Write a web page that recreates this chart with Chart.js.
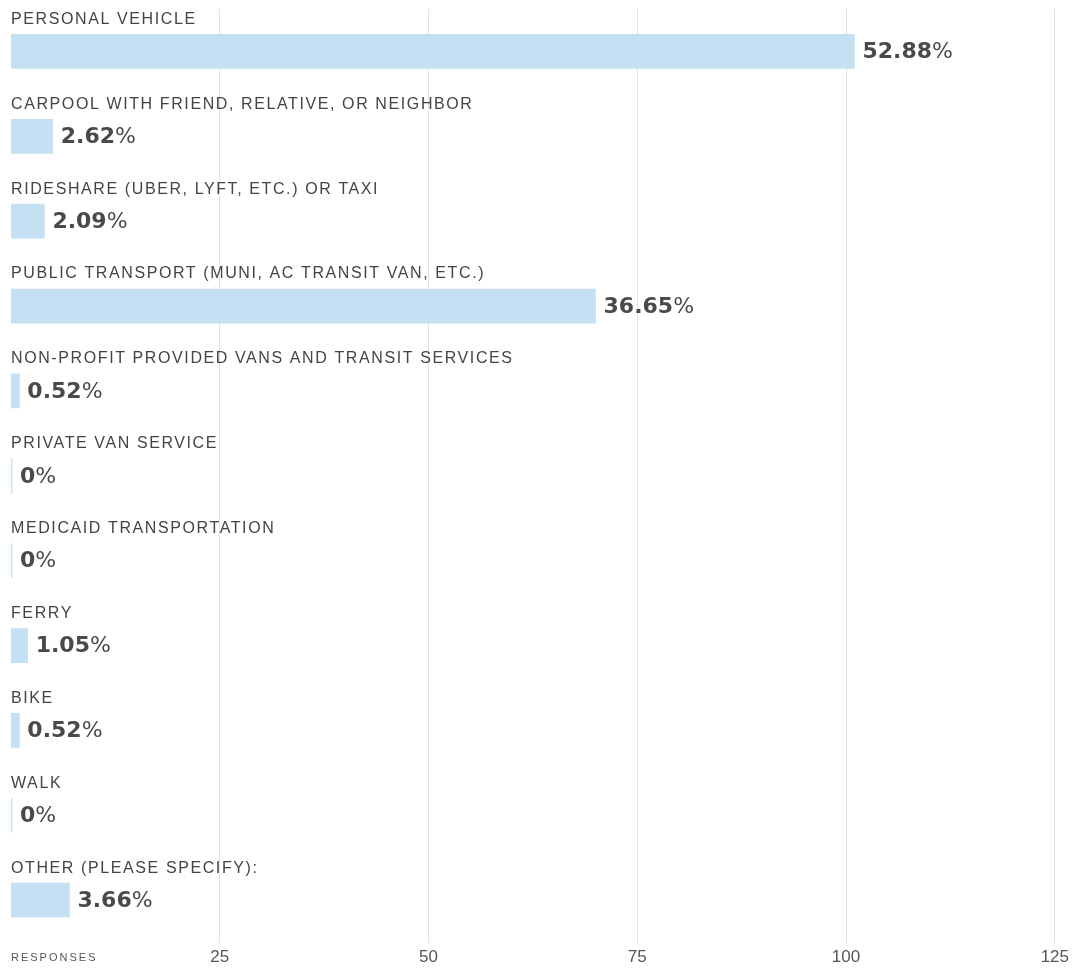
<!DOCTYPE html>
<html>
<head>
<meta charset="utf-8">
<script src="https://cdn.jsdelivr.net/npm/chart.js@4/dist/chart.umd.min.js"></script>
<style>
  body { margin: 0; background: #fff; }
  #wrap { width: 1074px; height: 968px; }
</style>
</head>
<body>
<div id="wrap"><canvas id="chart"></canvas></div>
<script>
// categories -> y axis
const categories = [
  'PERSONAL VEHICLE',
  'CARPOOL WITH FRIEND, RELATIVE, OR NEIGHBOR',
  'RIDESHARE (UBER, LYFT, ETC.) OR TAXI',
  'PUBLIC TRANSPORT (MUNI, AC TRANSIT VAN, ETC.)',
  'NON-PROFIT PROVIDED VANS AND TRANSIT SERVICES',
  'PRIVATE VAN SERVICE',
  'MEDICAID TRANSPORTATION',
  'FERRY',
  'BIKE',
  'WALK',
  'OTHER (PLEASE SPECIFY):'
];
// responses -> x axis
const responses = [101, 5, 4, 70, 1, 0, 0, 2, 1, 0, 7];
const percents = ['52.88', '2.62', '2.09', '36.65', '0.52', '0', '0', '1.05', '0.52', '0', '3.66'];
const xTicks = [25, 50, 75, 100, 125];

const labelsPlugin = {
  id: 'barLabels',
  afterDatasetsDraw(chart) {
    const ctx = chart.ctx;
    const meta = chart.getDatasetMeta(0);
    const left = chart.chartArea.left;
    ctx.save();
    meta.data.forEach((bar, i) => {
      const top = bar.y - bar.height / 2;
      // category name above the bar
      ctx.font = '16px "Liberation Sans", Arial, sans-serif';
      ctx.fillStyle = '#444';
      ctx.textBaseline = 'middle';
      ctx.textAlign = 'left';
      if (ctx.letterSpacing !== undefined) ctx.letterSpacing = '1.6px';
      ctx.fillText(categories[i], left, top - 15);
      if (ctx.letterSpacing !== undefined) ctx.letterSpacing = '0px';
      // value label right of the bar
      let x = Math.max(bar.x, left + 1) + 8;
      ctx.font = 'bold 22px "DejaVu Sans", sans-serif';
      ctx.fillStyle = '#4a4a4a';
      ctx.fillText(percents[i], x, bar.y + 1);
      x += ctx.measureText(percents[i]).width;
      ctx.font = '22px "DejaVu Sans", sans-serif';
      ctx.fillText('%', x, bar.y + 1);
    });
    // axis caption
    ctx.font = '11px "Liberation Sans", Arial, sans-serif';
    ctx.fillStyle = '#555';
    if (ctx.letterSpacing !== undefined) ctx.letterSpacing = '2px';
    ctx.fillText('RESPONSES', left, 958);
    ctx.restore();
  }
};

const config = {
  type: 'bar',
  data: {
    labels: categories,
    datasets: [{
      data: responses,
      backgroundColor: '#c5e0f2',
      barThickness: 34,
      minBarLength: 1
    }]
  },
  options: {
    indexAxis: 'y',
    responsive: true,
    maintainAspectRatio: false,
    animation: false,
    layout: { padding: { left: 11, right: 19, top: 9, bottom: -5 } },
    plugins: { legend: { display: false }, tooltip: { enabled: false } },
    scales: {
      x: {
        min: 0,
        max: 125,
        afterBuildTicks: (axis) => { axis.ticks = xTicks.map(v => ({ value: v })); },
        grid: { color: '#e2e2e2', drawTicks: false },
        border: { display: false },
        ticks: {
          color: '#555',
          padding: 5,
          font: { size: 17, family: '"Liberation Sans", Arial, sans-serif' }
        }
      },
      y: { display: false }
    }
  },
  plugins: [labelsPlugin]
};

var myChart = new Chart(document.getElementById('chart').getContext('2d'), config);
</script>
</body>
</html>
